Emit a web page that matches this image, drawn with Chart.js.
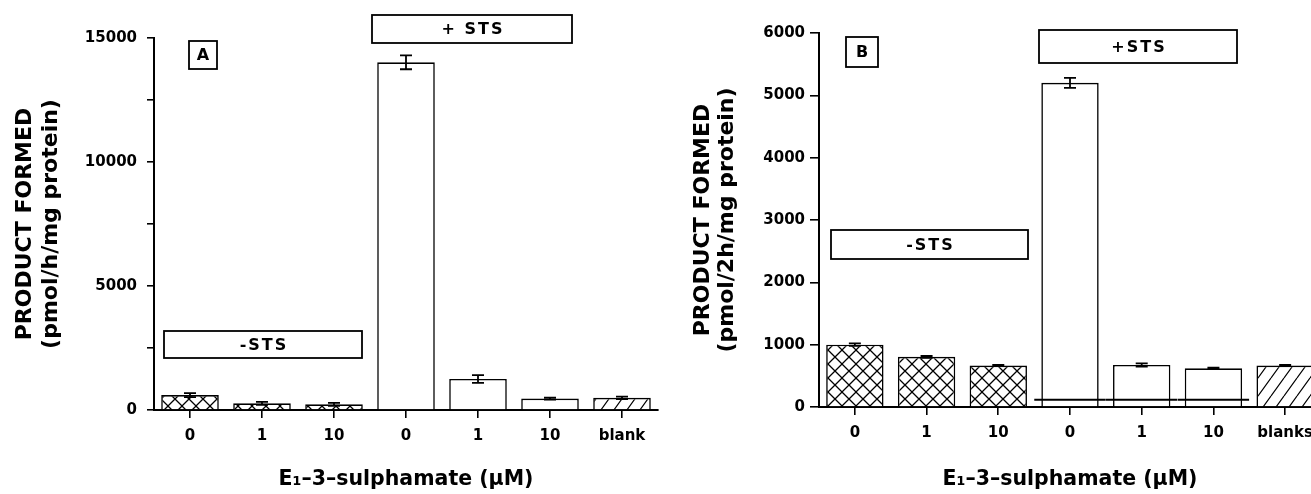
<!DOCTYPE html>
<html>
<head>
<meta charset="utf-8">
<script src="https://cdn.jsdelivr.net/npm/chart.js@4.4.1/dist/chart.umd.min.js"></script>
<style>
  html, body { margin: 0; padding: 0; background: #fff; overflow: hidden; }
  body { width: 1311px; height: 494px; position: relative; }
  canvas { position: absolute; top: 0; }
  #chartA { left: 0; }
  #chartB { left: 660px; }
</style>
</head>
<body>
<canvas id="chartA" width="700" height="494"></canvas>
<canvas id="chartB" width="680" height="494"></canvas>
<script>
// panel A: pmol/h/mg protein
const labelsA = ["0", "1", "10", "0", "1", "10", "blank"];
const valuesA = [600, 270, 230, 14020, 1250, 460, 490];
const errorsA = [80, 60, 60, 280, 160, 40, 50];
const yTicksA = [0, 5000, 10000, 15000];

// panel B: pmol/2h/mg protein
const labelsB = ["0", "1", "10", "0", "1", "10", "blanks"];
const valuesB = [1000, 805, 665, 5200, 675, 620, 665];
const errorsB = [20, 15, 10, 80, 25, 10, 10];
const baseB = [null, null, null, 130, 130, 130, null];
const yTicksB = [0, 1000, 2000, 3000, 4000, 5000, 6000];

const FONT = "'DejaVu Sans', sans-serif";
Chart.defaults.font.family = FONT;
Chart.defaults.font.weight = "bold";
Chart.defaults.color = "#000";

function crossHatch(ctx) {
  const c = document.createElement("canvas");
  c.width = 14; c.height = 14;
  const g = c.getContext("2d");
  g.fillStyle = "#fff";
  g.fillRect(0, 0, 14, 14);
  g.strokeStyle = "#000";
  g.lineWidth = 1.3;
  g.beginPath();
  g.moveTo(-1, -1); g.lineTo(15, 15);
  g.moveTo(15, -1); g.lineTo(-1, 15);
  g.stroke();
  return ctx.createPattern(c, "repeat");
}

function diagHatch(ctx) {
  // steep "/" lines
  const c = document.createElement("canvas");
  c.width = 13; c.height = 18;
  const g = c.getContext("2d");
  g.fillStyle = "#fff";
  g.fillRect(0, 0, 13, 18);
  g.strokeStyle = "#000";
  g.lineWidth = 1.2;
  g.beginPath();
  g.moveTo(0, 18); g.lineTo(13, 0);
  g.moveTo(-13, 18); g.lineTo(0, 0);
  g.moveTo(13, 18); g.lineTo(26, 0);
  g.stroke();
  return ctx.createPattern(c, "repeat");
}

// error bars drawn from the y scale
const errorBars = {
  id: "errorBars",
  afterDatasetsDraw(chart, args, opts) {
    const meta = chart.getDatasetMeta(0);
    const y = chart.scales.y;
    const ctx = chart.ctx;
    ctx.save();
    ctx.strokeStyle = "#000";
    ctx.lineWidth = 1.8;
    meta.data.forEach((bar, i) => {
      const v = opts.values[i], e = opts.errors[i];
      const top = y.getPixelForValue(v + e);
      const bot = y.getPixelForValue(v - e);
      const x = bar.x;
      ctx.beginPath();
      ctx.moveTo(x, top); ctx.lineTo(x, bot);
      ctx.moveTo(x - 6, top); ctx.lineTo(x + 6, top);
      ctx.moveTo(x - 6, bot); ctx.lineTo(x + 6, bot);
      ctx.stroke();
    });
    ctx.restore();
  }
};

// boxed labels (panel letter, -STS / +STS)
const labelBoxes = {
  id: "labelBoxes",
  afterDraw(chart, args, opts) {
    const ctx = chart.ctx;
    ctx.save();
    ctx.lineWidth = 1.8;
    ctx.strokeStyle = "#000";
    ctx.textAlign = "center";
    ctx.textBaseline = "middle";
    opts.boxes.forEach(b => {
      ctx.fillStyle = "#fff";
      ctx.fillRect(b.x0, b.y0, b.x1 - b.x0, b.y1 - b.y0);
      ctx.strokeRect(b.x0, b.y0, b.x1 - b.x0, b.y1 - b.y0);
      ctx.fillStyle = "#000";
      ctx.font = "bold " + (b.size || 15) + "px " + FONT;
      ctx.letterSpacing = (b.spacing || 0) + "px";
      ctx.fillText(b.text, (b.x0 + b.x1) / 2 + (b.spacing || 0) / 2, (b.y0 + b.y1) / 2 + 1);
    });
    ctx.restore();
  }
};

function makeChart(id, cfg) {
  const ctx = document.getElementById(id).getContext("2d");
  const cross = crossHatch(ctx);
  const diag = diagHatch(ctx);
  const fills = cfg.labels.map((_, i) => i < 3 ? cross : (i < 6 ? "#fff" : diag));

  const datasets = [{
    data: cfg.values,
    backgroundColor: fills,
    borderColor: "#000",
    borderWidth: 1.6,
    barPercentage: 0.8,
    categoryPercentage: 1.0,
    order: 1
  }];
  if (cfg.base) {
    datasets.push({
      data: cfg.base,
      grouped: false,
      order: 0,
      backgroundColor: "rgba(0,0,0,0)",
      borderColor: "#000",
      borderWidth: { top: 1.5, left: 0, right: 0, bottom: 0 },
      borderSkipped: false,
      barPercentage: 1.0,
      categoryPercentage: 1.0
    });
  }

  return new Chart(ctx, {
    type: "bar",
    data: { labels: cfg.labels, datasets: datasets },
    options: {
      responsive: false,
      animation: false,
      devicePixelRatio: 1,
      layout: { padding: cfg.padding },
      plugins: {
        legend: { display: false },
        tooltip: { enabled: false },
        errorBars: { values: cfg.values, errors: cfg.errors },
        labelBoxes: { boxes: cfg.boxes }
      },
      scales: {
        x: {
          type: "category",
          offset: true,
          grid: { display: true, drawOnChartArea: false, drawTicks: true, tickLength: 8, offset: false, color: "#000", lineWidth: 1.6 },
          border: { display: true, color: "#000", width: 2 },
          ticks: { autoSkip: false, maxRotation: 0, padding: 9, font: { size: 15, weight: "bold" } },
          title: { display: true, text: "E\u2081\u20133\u2013sulphamate (\u03bcM)", font: { size: 20.5, weight: "bold" }, padding: { top: 0, bottom: 2 } },
          afterFit: s => { s.height = cfg.xHeight; }
        },
        y: {
          min: 0,
          max: cfg.yMax,
          grid: { display: true, drawOnChartArea: false, drawTicks: true, tickLength: cfg.tickLen, color: "#000", lineWidth: 1.6 },
          border: { display: true, color: "#000", width: 2 },
          ticks: {
            stepSize: cfg.step,
            padding: cfg.tickPad,
            font: { size: 15, weight: "bold" },
            callback: v => cfg.yTicks.includes(v) ? String(v) : ""
          },
          title: { display: true, text: cfg.yTitle, font: { size: 22, weight: "bold", lineHeight: cfg.titleLH }, padding: { top: cfg.titlePad, bottom: 0 } },
          afterFit: s => { s.width = cfg.yWidth; }
        }
      }
    },
    plugins: [errorBars, labelBoxes]
  });
}

makeChart("chartA", {
  labels: labelsA, values: valuesA, errors: errorsA, yTicks: yTicksA,
  yMax: 15000, step: 2500, tickLen: 7, tickPad: 10,
  yTitle: ["PRODUCT FORMED", "(pmol/h/mg protein)"], titleLH: 1.2, titlePad: 12,
  yWidth: 154, xHeight: 84,
  padding: { top: 38, right: 42, bottom: 0, left: 0 },
  boxes: [
    { x0: 189, y0: 41, x1: 217, y1: 69, text: "A", size: 16 },
    { x0: 372, y0: 15, x1: 572, y1: 43, text: "+ STS", size: 16, spacing: 2 },
    { x0: 164, y0: 331, x1: 362, y1: 358, text: "-STS", size: 16, spacing: 2 }
  ]
});

makeChart("chartB", {
  labels: labelsB, values: valuesB, errors: errorsB, base: baseB, yTicks: yTicksB,
  yMax: 6000, step: 1000, tickLen: 9, tickPad: 5,
  yTitle: ["PRODUCT FORMED", "(pmol/2h/mg protein)"], titleLH: 1.1, titlePad: 31,
  yWidth: 159, xHeight: 87,
  padding: { top: 33, right: 19, bottom: 0, left: 0 },
  boxes: [
    { x0: 186, y0: 37, x1: 218, y1: 67, text: "B", size: 16 },
    { x0: 379, y0: 30, x1: 577, y1: 63, text: "+STS", size: 16, spacing: 2 },
    { x0: 171, y0: 230, x1: 368, y1: 259, text: "-STS", size: 16, spacing: 2 }
  ]
});
</script>
</body>
</html>
